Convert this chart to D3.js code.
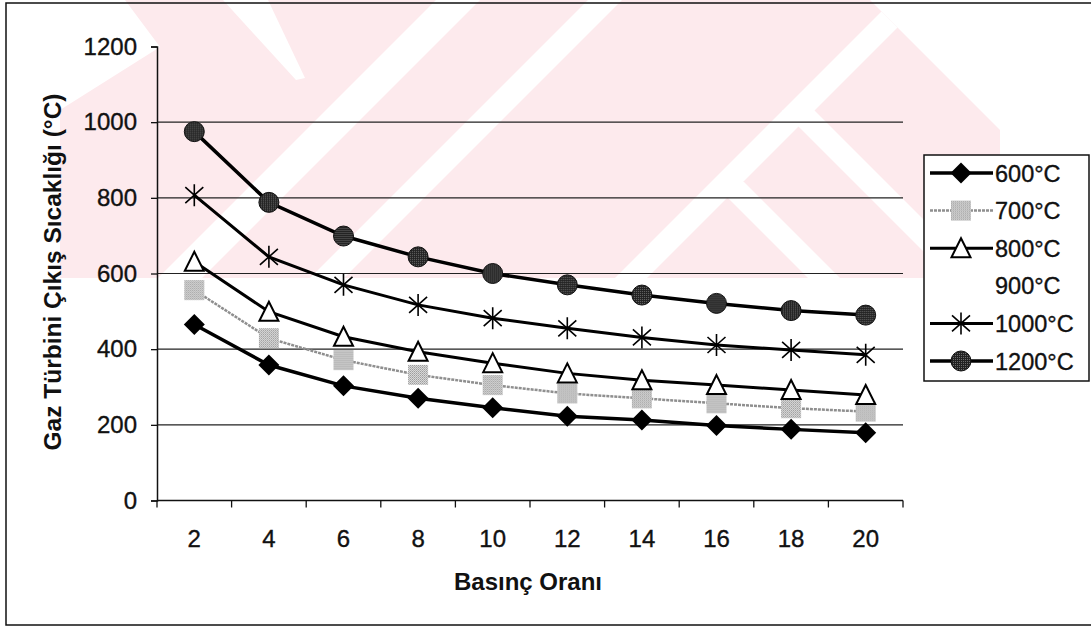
<!DOCTYPE html>
<html>
<head>
<meta charset="utf-8">
<script src="https://cdn.jsdelivr.net/npm/d3@7"></script>
<style>
  html, body { margin: 0; padding: 0; background: #fff; }
  svg text { font-family: "Liberation Sans", Arial, sans-serif; fill: #111; }
  .num { stroke: #111; stroke-width: 0.35px; }
</style>
</head>
<body>
<svg id="chart" width="1091" height="629"></svg>
<script>
// values
const pressureRatios = [2, 4, 6, 8, 10, 12, 14, 16, 18, 20];
const seriesNames = ["600°C", "700°C", "800°C", "900°C", "1000°C", "1200°C"];
const t600 = [465, 358, 303, 270, 245, 223, 213, 198, 188, 179];
const t700 = [556, 429, 371, 332, 305, 283, 270, 257, 244, 235];
const t800 = [631, 499, 433, 393, 363, 336, 318, 305, 292, 279];
const t900 = [];   // in the legend only, no points in the figure
const t1000 = [807, 644, 570, 517, 482, 455, 431, 411, 398, 385];
const t1200 = [975, 788, 699, 644, 600, 570, 543, 521, 502, 490];
const yTicks = [0, 200, 400, 600, 800, 1000, 1200];

const svg = d3.select("#chart");

// --- faint watermark behind the plot ---
const wm = svg.append("g");
const base = [[125,0],[870,0],[1000,130],[1000,278],[60,278],[60,110],[160,47]];
wm.append("clipPath").attr("id", "wmclip")
  .append("polygon").attr("points", base.join(" "));
wm.append("polygon").attr("points", base.join(" ")).attr("fill", "#fdeaed");
const slash = (s1, s2, ya, yb) => [[s1-ya,ya],[s2-ya,ya],[s2-yb,yb],[s1-yb,yb]];
const back = (d1, d2, ya, yb) => [[d1+ya,ya],[d2+ya,ya],[d2+yb,yb],[d1+yb,yb]];
const gaps = [
  [[223,0],[268,0],[305,78],[296,80]],
  slash(436, 480, 0, 278),
  slash(588, 622, 0, 278),
  slash(893, 925, 0, 278),
  back(672, 704, 110, 278),
  back(530, 562, 182, 278)
];
wm.append("g").attr("clip-path", "url(#wmclip)")
  .selectAll("polygon").data(gaps).enter().append("polygon")
  .attr("points", d => d.join(" ")).attr("fill", "#fff");

// outer frame
svg.append("rect").attr("x", 6).attr("y", 3).attr("width", 1100).attr("height", 622)
  .attr("fill", "none").attr("stroke", "#111").attr("stroke-width", 1.5);

// patterns for the scanned gray fills
const defs = svg.append("defs");
const lightDither = defs.append("pattern").attr("id", "dither").attr("width", 2).attr("height", 2)
  .attr("patternUnits", "userSpaceOnUse");
lightDither.append("rect").attr("width", 2).attr("height", 2).attr("fill", "#e6e6e6");
lightDither.append("rect").attr("width", 1).attr("height", 1).attr("fill", "#8c8c8c");
lightDither.append("rect").attr("x", 1).attr("y", 1).attr("width", 1).attr("height", 1).attr("fill", "#a8a8a8");
const darkDither = defs.append("pattern").attr("id", "darkdither").attr("width", 2).attr("height", 2)
  .attr("patternUnits", "userSpaceOnUse");
darkDither.append("rect").attr("width", 2).attr("height", 2).attr("fill", "#222");
darkDither.append("rect").attr("width", 1).attr("height", 1).attr("fill", "#6a6a6a");

const x = d3.scaleBand().domain(pressureRatios).range([157, 903]).paddingInner(0).paddingOuter(0);
const y = d3.scaleLinear().domain([0, 1200]).range([500.5, 46.5]);
const cx = v => x(v) + x.bandwidth() / 2;

// gridlines
svg.append("g").selectAll("line").data(yTicks.filter(v => v > 0 && v < 1200)).enter().append("line")
  .attr("x1", 157).attr("x2", 903).attr("y1", d => y(d)).attr("y2", d => y(d))
  .attr("stroke", "#222").attr("stroke-width", 1.2);

// y axis
const yAxis = svg.append("g").attr("transform", "translate(157,0)")
  .call(d3.axisLeft(y).tickValues(yTicks).tickFormat(d3.format("d")).tickSize(6).tickPadding(14));
yAxis.select(".domain").attr("stroke", "#111").attr("stroke-width", 1.5);
yAxis.selectAll(".tick line").attr("stroke", "#111").attr("stroke-width", 1.3);
yAxis.selectAll(".tick text").attr("class", "num").attr("font-size", 24)
  .attr("font-family", "Liberation Sans, Arial, sans-serif").attr("fill", "#111");

// x axis: ticks sit between categories
const xAxis = svg.append("g").attr("transform", "translate(0,500.5)");
xAxis.append("line").attr("x1", 157).attr("x2", 903).attr("stroke", "#111").attr("stroke-width", 1.5);
const bounds = pressureRatios.map(d => x(d)).concat([903]);
xAxis.selectAll(".tk").data(bounds).enter().append("line").attr("class", "tk")
  .attr("x1", d => d).attr("x2", d => d).attr("y1", 0).attr("y2", 7)
  .attr("stroke", "#111").attr("stroke-width", 1.3);
xAxis.selectAll("text").data(pressureRatios).enter().append("text").attr("class", "num")
  .attr("x", d => cx(d)).attr("y", 46.5).attr("text-anchor", "middle")
  .attr("font-size", 24).text(d => d);

// axis titles
svg.append("text").attr("x", 528).attr("y", 590).attr("text-anchor", "middle")
  .attr("font-size", 24).attr("font-weight", "bold").text("Basınç Oranı");
svg.append("text").attr("transform", "translate(61,272) rotate(-90)").attr("text-anchor", "middle")
  .attr("font-size", 24.5).attr("font-weight", "bold").text("Gaz Türbini Çıkış Sıcaklığı (°C)");

// marker drawing
function marker(g, type) {
  if (type === "diamond") {
    g.append("path").attr("d", "M0,-10.5L10.5,0L0,10.5L-10.5,0Z").attr("fill", "#000");
  } else if (type === "square") {
    g.append("rect").attr("x", -10).attr("y", -10).attr("width", 20).attr("height", 20).attr("fill", "url(#dither)");
  } else if (type === "triangle") {
    g.append("path").attr("d", "M0,-10L9.5,9L-9.5,9Z").attr("fill", "#fff")
      .attr("stroke", "#000").attr("stroke-width", 2);
  } else if (type === "star") {
    g.append("path").attr("d", "M0,-11V11M-9,-8L9,8M-9,8L9,-8").attr("stroke", "#000")
      .attr("stroke-width", 1.6).attr("fill", "none");
  } else if (type === "circle") {
    g.append("circle").attr("r", 10).attr("fill", "url(#darkdither)").attr("stroke", "#111").attr("stroke-width", 1);
  }
}

const series = [
  { name: seriesNames[0], values: t600, color: "#000", width: 3.5, type: "diamond" },
  { name: seriesNames[1], values: t700, color: "#8f8f8f", width: 2.5, type: "square", dash: "3,1" },
  { name: seriesNames[2], values: t800, color: "#000", width: 3, type: "triangle" },
  { name: seriesNames[3], values: t900, color: "#000", width: 3, type: "none" },
  { name: seriesNames[4], values: t1000, color: "#000", width: 3, type: "star" },
  { name: seriesNames[5], values: t1200, color: "#000", width: 3.5, type: "circle" }
];

const line = d3.line().x((d, i) => cx(pressureRatios[i])).y(d => y(d));

series.forEach(s => {
  if (!s.values.length) return;
  const g = svg.append("g");
  g.append("path").attr("d", line(s.values)).attr("fill", "none")
    .attr("stroke", s.color).attr("stroke-width", s.width).attr("stroke-dasharray", s.dash || null);
  s.values.forEach((v, i) => {
    marker(g.append("g").attr("transform", `translate(${cx(pressureRatios[i])},${y(v)})`), s.type);
  });
});

// legend
const legend = svg.append("g");
legend.append("rect").attr("x", 924).attr("y", 155).attr("width", 165).attr("height", 226)
  .attr("fill", "#fff").attr("stroke", "#111").attr("stroke-width", 1.5);
series.forEach((s, i) => {
  const ly = 173 + i * 37.6;
  const item = legend.append("g").attr("transform", `translate(0,${ly})`);
  if (s.type !== "none") {
    item.append("line").attr("x1", 930).attr("x2", 993).attr("stroke", s.color)
      .attr("stroke-width", s.width).attr("stroke-dasharray", s.dash || null);
    marker(item.append("g").attr("transform", "translate(961,0)"), s.type);
  }
  item.append("text").attr("class", "num").attr("x", 995).attr("y", 8.5)
    .attr("font-size", 23.5).text(s.name);
});
</script>
</body>
</html>
